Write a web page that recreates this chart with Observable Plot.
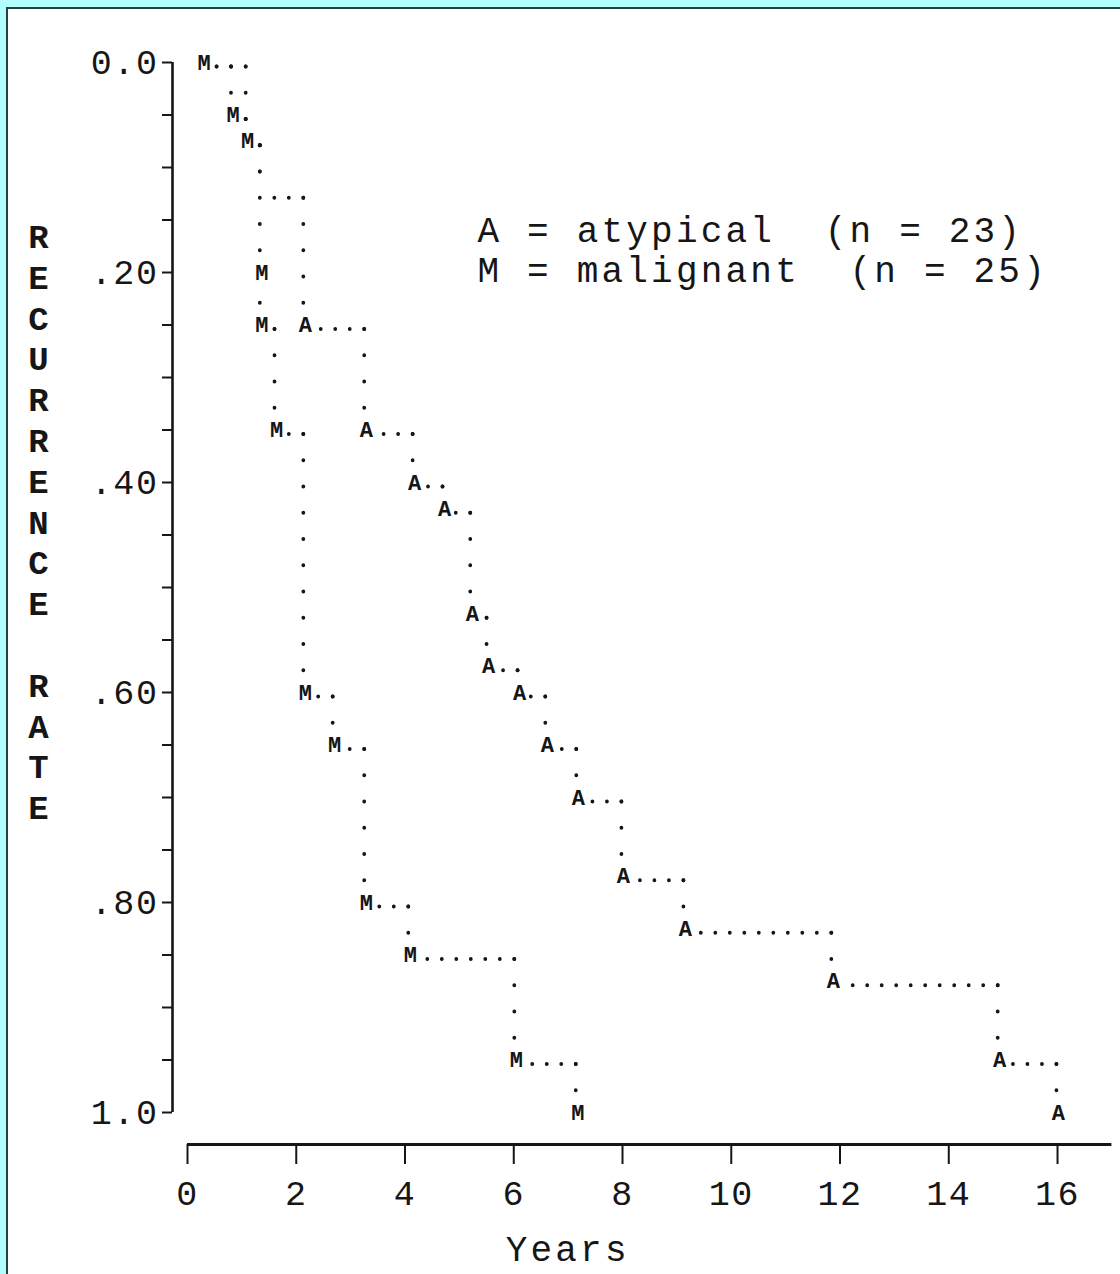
<!DOCTYPE html>
<html><head><meta charset="utf-8">
<script src="https://cdn.jsdelivr.net/npm/d3@7"></script>
<script src="https://cdn.jsdelivr.net/npm/@observablehq/plot@0.6"></script>
<style>
html,body{margin:0;padding:0}
body{width:1120px;height:1274px;overflow:hidden;position:relative;background:#b2fefe;}
#panel{position:absolute;left:6px;top:7px;width:1130px;height:1290px;background:#fff;border-left:2px solid #24403f;border-top:2px solid #24403f;}
#chart{position:absolute;left:0;top:0;}
svg text, svg tspan{white-space:pre;}
g[font-size="35"]{letter-spacing:1.6px}
g[font-size="36"]{letter-spacing:3.2px}
</style></head>
<body><div id="panel"></div><div id="chart"></div>
<script>
// ---- tick values and labels ----
const xTickValues = [0, 2, 4, 6, 8, 10, 12, 14, 16];
const yTickValues = [0, 0.05, 0.10, 0.15, 0.20, 0.25, 0.30, 0.35, 0.40, 0.45, 0.50,
                     0.55, 0.60, 0.65, 0.70, 0.75, 0.80, 0.85, 0.90, 0.95, 1.0];
const yLabeledValues = [0, 0.2, 0.4, 0.6, 0.8, 1.0];
const yTickLabels = ["0.0", ".20", ".40", ".60", ".80", "1.0"];

// ---- series (years, cumulative recurrence rate) ----
const malignantYears = [0.27, 0.80, 1.07, 1.33, 1.33, 1.60, 2.13, 2.67, 3.25, 4.06, 6.01, 7.14];
const malignantRates = [0, 0.05, 0.075, 0.20, 0.25, 0.35, 0.60, 0.65, 0.80, 0.85, 0.95, 1.0];
const atypicalYears = [0.27, 1.07, 1.33, 2.13, 3.25, 4.14, 4.69, 5.20, 5.50, 6.07, 6.58, 7.15, 7.98, 9.12, 11.84, 14.90, 15.98];
const atypicalRates = [0, 0.075, 0.125, 0.25, 0.35, 0.40, 0.425, 0.525, 0.575, 0.60, 0.65, 0.70, 0.775, 0.825, 0.875, 0.95, 1.0];
const atypicalHiddenUnderM = 3; // first atypical points are overprinted by the malignant curve

const seriesLetters = {malignant: "M", atypical: "A"};
const legendLines = ["A = atypical  (n = 23)", "M = malignant  (n = 25)"];
const yTitle = "RECURRENCE RATE";
const xTitle = "Years";

// ---- layout ----
const W = 1120, H = 1274;
const mL = 187, mR = 8.6, mT = 62, mB = 162;
const xDomain = [0, 17];
const pxPerYear = (W - mL - mR) / (xDomain[1] - xDomain[0]);
const colPx = pxPerYear * 4 / 15;          // typewriter column pitch
const rowPx = (H - mT - mB) * 0.025;       // typewriter line pitch
const ink = "#161616";
const mono = "'Liberation Mono', 'DejaVu Sans Mono', monospace";

function steps(years, rates) {
  const h = [], v = [];
  for (let i = 0; i < years.length - 1; i++) {
    h.push({from: years[i + 1], to: years[i], rate: rates[i]});
    v.push({year: years[i + 1], from: rates[i], to: rates[i + 1]});
  }
  return {h, v};
}
const mSteps = steps(malignantYears, malignantRates);
const aSteps = steps(atypicalYears, atypicalRates);
const hSegs = [...aSteps.h, ...mSteps.h];
const vSegs = [...aSteps.v, ...mSteps.v];

const letters = [
  ...atypicalYears.map((t, i) => ({t, r: atypicalRates[i], s: seriesLetters.atypical, i}))
     .filter(d => d.i >= atypicalHiddenUnderM),
  ...malignantYears.map((t, i) => ({t, r: malignantRates[i], s: seriesLetters.malignant, i}))
];

const yLabel = new Map(yLabeledValues.map((v, i) => [v, yTickLabels[i]]));

const plot = Plot.plot({
  width: W, height: H,
  marginLeft: mL, marginRight: mR, marginTop: mT, marginBottom: mB,
  style: {background: "transparent", color: ink, fontFamily: mono, overflow: "visible"},
  x: {domain: xDomain},
  y: {domain: [0, 1], reverse: true},
  marks: [
    // y axis
    Plot.ruleX([0], {dx: -15, stroke: ink, strokeWidth: 2.6}),
    Plot.axisY(yTickValues, {
      anchor: "left", dx: -15, tickSize: 10, tickPadding: 4, strokeWidth: 2,
      tickFormat: d => yLabel.get(Math.round(d * 100) / 100) ?? "",
      fontSize: 35, fontFamily: mono, fill: ink, label: null
    }),
    // x axis
    Plot.ruleY([1], {dy: 32, stroke: ink, strokeWidth: 3}),
    Plot.axisX(xTickValues, {
      anchor: "bottom", dy: 32, tickSize: 20, tickPadding: 16, strokeWidth: 2,
      fontSize: 35, fontFamily: mono, fill: ink, label: null
    }),
    // dotted steps
    Plot.link(hSegs, {x1: "from", x2: "to", y1: "rate", y2: "rate", dy: 4,
      stroke: ink, strokeWidth: 3.8, strokeLinecap: "round", strokeDasharray: `0 ${colPx}`}),
    Plot.link(vSegs, {x1: "year", x2: "year", y1: "from", y2: "to", dy: 4,
      stroke: ink, strokeWidth: 3.8, strokeLinecap: "round", strokeDasharray: `0 ${rowPx}`}),
    // blank type cell under each letter
    Plot.dot(letters, {x: "t", y: "r", dx: 2, dy: 2, symbol: "square", r: 8, fill: "white"}),
    Plot.text(letters, {x: "t", y: "r", text: "s", dx: 2, fontSize: 22, fontWeight: "bold",
      fontFamily: mono, fill: ink}),
    // legend
    Plot.text([legendLines.join("\n")], {frameAnchor: "top-left", textAnchor: "start", lineAnchor: "top",
      dx: 290, dy: 151, fontSize: 36, lineHeight: 1.11, fontFamily: mono, fill: ink}),
    // axis titles
    Plot.text([yTitle.split("").map(c => c === " " ? "\u00a0" : c).join("\n")], {
      frameAnchor: "left", textAnchor: "middle", lineAnchor: "middle", dx: -149, dy: -67,
      fontSize: 34, fontWeight: "bold", lineHeight: 1.2, fontFamily: mono, fill: ink}),
    Plot.text([xTitle], {frameAnchor: "bottom", textAnchor: "middle", lineAnchor: "top",
      dx: -82, dy: 123, fontSize: 36, fontFamily: mono, fill: ink})
  ]
});
document.getElementById("chart").appendChild(plot);
</script></body></html>
